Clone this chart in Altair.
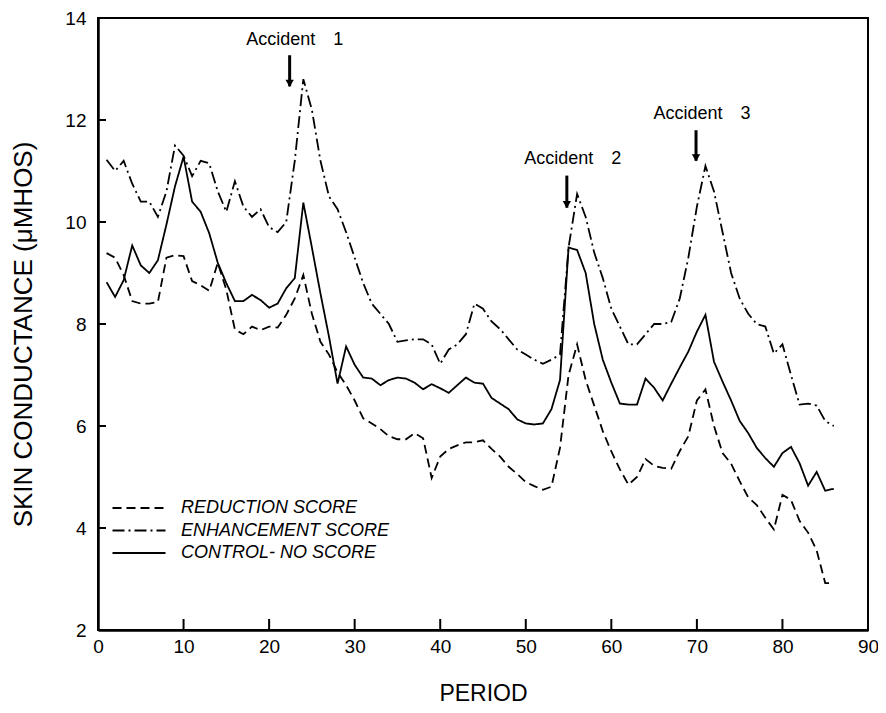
import altair as alt
import pandas as pd

# ---------------- data ----------------
periods = list(range(1, 87))

series_names = ["REDUCTION SCORE", "ENHANCEMENT SCORE", "CONTROL- NO SCORE"]

reduction = [
    9.39, 9.30, 8.96, 8.45, 8.40, 8.40, 8.43, 9.30, 9.35, 9.33,
    8.84, 8.76, 8.65, 9.20, 8.67, 7.89, 7.80, 7.95, 7.88, 7.95,
    7.93, 8.18, 8.50, 8.96, 8.20, 7.65, 7.40, 7.05, 6.80, 6.50,
    6.15, 6.05, 5.94, 5.80, 5.74, 5.74, 5.86, 5.76, 4.98, 5.40,
    5.55, 5.62, 5.68, 5.68, 5.72, 5.55, 5.40, 5.20, 5.06, 4.90,
    4.82, 4.75, 4.81, 5.57, 7.00, 7.60, 6.90, 6.40, 5.90, 5.50,
    5.15, 4.85, 5.00, 5.35, 5.22, 5.18, 5.16, 5.51, 5.80, 6.50,
    6.72, 6.00, 5.47, 5.26, 4.92, 4.60, 4.45, 4.20, 3.97, 4.65,
    4.55, 4.14, 3.91, 3.56, 2.92, 2.92,
]

enhancement = [
    11.22, 11.00, 11.20, 10.75, 10.40, 10.40, 10.10, 10.60, 11.50, 11.30,
    10.90, 11.20, 11.15, 10.60, 10.20, 10.80, 10.30, 10.10, 10.25, 9.90,
    9.80, 10.00, 11.20, 12.80, 12.20, 11.20, 10.50, 10.25, 9.80, 9.30,
    8.80, 8.40, 8.20, 8.00, 7.65, 7.68, 7.70, 7.70, 7.60, 7.22,
    7.50, 7.60, 7.80, 8.40, 8.30, 8.05, 7.90, 7.70, 7.50, 7.40,
    7.30, 7.22, 7.30, 7.40, 9.50, 10.55, 10.10, 9.40, 8.90, 8.30,
    7.95, 7.60, 7.60, 7.80, 8.00, 8.00, 8.04, 8.50, 9.30, 10.30,
    11.10, 10.60, 9.80, 9.00, 8.50, 8.20, 8.00, 7.95, 7.42, 7.60,
    7.00, 6.42, 6.44, 6.40, 6.10, 6.00,
]

control = [
    8.82, 8.53, 8.86, 9.54, 9.15, 9.00, 9.25, 9.95, 10.70, 11.28,
    10.40, 10.20, 9.78, 9.20, 8.80, 8.45, 8.45, 8.57, 8.47, 8.32,
    8.40, 8.70, 8.90, 10.38, 9.50, 8.60, 7.75, 6.83, 7.56, 7.20,
    6.95, 6.93, 6.80, 6.90, 6.95, 6.93, 6.85, 6.72, 6.82, 6.74,
    6.65, 6.80, 6.95, 6.85, 6.83, 6.55, 6.44, 6.33, 6.13, 6.05,
    6.03, 6.05, 6.33, 6.90, 9.50, 9.45, 9.00, 8.00, 7.30, 6.85,
    6.44, 6.42, 6.42, 6.93, 6.75, 6.50, 6.83, 7.15, 7.46, 7.85,
    8.18, 7.26, 6.87, 6.50, 6.10, 5.86, 5.57, 5.37, 5.20, 5.47,
    5.59, 5.27, 4.83, 5.10, 4.73, 4.77,
]

accident_labels = ["Accident\u20031", "Accident\u20032", "Accident\u20033"]
accident_period = [22.4, 54.8, 69.9]
arrow_top = [13.27, 10.91, 11.80]
arrow_tip = [12.66, 10.28, 11.20]
label_period = [23.0, 55.5, 70.6]
label_value = [13.56, 11.24, 12.12]

x_ticks = list(range(0, 91, 10))
y_ticks = list(range(2, 15, 2))
x_inner_ticks = x_ticks[1:-1]
y_inner_ticks = y_ticks[1:-1]

# ---------------- tables ----------------
lines_df = pd.DataFrame({
    "period": periods * 3,
    "value": reduction + enhancement + control,
    "series": [name for name in series_names for _ in periods],
})
acc_df = pd.DataFrame({
    "label": accident_labels,
    "p": accident_period,
    "top": arrow_top,
    "tip": arrow_tip,
    "lp": label_period,
    "lv": label_value,
})
xt_df = pd.DataFrame({"t": x_inner_ticks})
yt_df = pd.DataFrame({"t": y_inner_ticks})

FONT = "Liberation Sans"
W, H = 770, 612

x_scale = alt.Scale(domain=[0, 90], nice=False, zero=False)
y_scale = alt.Scale(domain=[2, 14], nice=False, zero=False)

dash_range = [[9, 5], [12, 4, 2, 4], [1, 0]]

lines = alt.Chart(lines_df).mark_line(color="black", strokeWidth=1.8).encode(
    x=alt.X("period:Q", scale=x_scale, axis=alt.Axis(
        orient="bottom", values=x_ticks, ticks=False, tickSize=0, grid=False,
        labelPadding=7, labelFont=FONT, labelFontSize=19, labelColor="black",
        labelFlush=False, labelOverlap=False,
        domainColor="black", domainWidth=2.5,
        title="PERIOD", titleFont=FONT, titleFontSize=23, titleFontWeight="normal",
        titleColor="black", titleBaseline="alphabetic", titleY=70,
    )),
    y=alt.Y("value:Q", scale=y_scale, axis=alt.Axis(
        orient="left", values=y_ticks, ticks=False, tickSize=0, grid=False,
        labelPadding=12, labelFont=FONT, labelFontSize=19, labelColor="black",
        labelFlush=False, labelOverlap=False,
        domainColor="black", domainWidth=2.5,
        title="SKIN CONDUCTANCE (\u03bcMHOS)", titleFont=FONT, titleFontSize=26,
        titleFontWeight="normal", titleColor="black", titleAngle=270,
        titleBaseline="middle", titleAlign="center", titleX=-75, titleY=316,
    )),
    strokeDash=alt.StrokeDash("series:N", scale=alt.Scale(domain=series_names, range=dash_range),
        legend=alt.Legend(
            orient="none", legendX=30, legendY=479, title=None, padding=0,
            symbolType="M-2.65,0L2.65,0", symbolSize=400, symbolStrokeWidth=1.8,
            symbolStrokeColor="black", labelOffset=31, rowPadding=2.5, labelLimit=0,
            labelFont=FONT, labelFontSize=18, labelFontStyle="italic", labelColor="black",
        )),
    detail="series:N",
)

# inward-pointing axis ticks
x_tick_marks = alt.Chart(xt_df).mark_rule(color="black", strokeWidth=2).encode(
    x=alt.X("t:Q", scale=x_scale, axis=None),
    y=alt.value(H),
    y2=alt.value(H - 11),
)
y_tick_marks = alt.Chart(yt_df).mark_rule(color="black", strokeWidth=2).encode(
    y=alt.Y("t:Q", scale=y_scale, axis=None),
    x=alt.value(0),
    x2=alt.value(8),
)

arrows = alt.Chart(acc_df).mark_rule(color="black", strokeWidth=3).encode(
    x=alt.X("p:Q", scale=x_scale, axis=None),
    y=alt.Y("top:Q", scale=y_scale, axis=None),
    y2="tip:Q",
)

heads = alt.Chart(acc_df).mark_point(shape="triangle-down", filled=True, color="black",
                                      size=70, opacity=1, yOffset=-3).encode(
    x=alt.X("p:Q", scale=x_scale, axis=None),
    y=alt.Y("tip:Q", scale=y_scale, axis=None),
)

labels = alt.Chart(acc_df).mark_text(font=FONT, fontSize=18, color="black",
                                      align="center", baseline="middle").encode(
    x=alt.X("lp:Q", scale=x_scale, axis=None),
    y=alt.Y("lv:Q", scale=y_scale, axis=None),
    text="label:N",
)

chart = alt.layer(lines, x_tick_marks, y_tick_marks, arrows, heads, labels).resolve_axis(
    x="independent", y="independent"
).properties(
    width=W, height=H,
    autosize=alt.AutoSizeParams(type="none"),
    padding={"left": 90, "top": 10, "right": 10, "bottom": 75},
    background="white",
).configure_view(stroke="black", strokeWidth=2)

chart.save("out.html", embed_options={"renderer": "svg", "actions": False})
